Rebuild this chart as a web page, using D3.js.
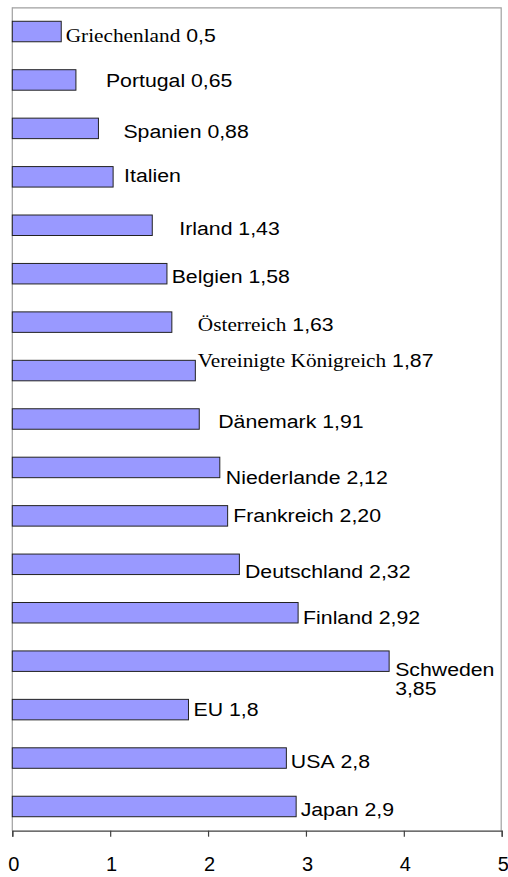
<html>
<head><meta charset="utf-8"></head>
<script src="https://d3js.org/d3.v7.min.js"></script>
<body style="margin:0;background:#fff">
</body>
<script>
    // data
    let countries = ["Griechenland", "Portugal", "Spanien", "Italien", "Irland", "Belgien", "Österreich",
        "Vereinigte Königreich", "Dänemark", "Niederlande", "Frankreich", "Deutschland", "Finland",
        "Schweden", "EU", "USA", "Japan"];
    let values = [0.5, 0.65, 0.88, 1.03, 1.43, 1.58, 1.63, 1.87, 1.91, 2.12, 2.20, 2.32, 2.92, 3.85, 1.8, 2.8, 2.9];
    let valueLabels = ["0,5", "0,65", "0,88", "", "1,43", "1,58", "1,63", "1,87", "1,91", "2,12", "2,20",
        "2,32", "2,92", "3,85", "1,8", "2,8", "2,9"];
    let serifNames = ["Griechenland", "Österreich", "Vereinigte Königreich"];
    let xTicks = [0, 1, 2, 3, 4, 5];

    let width = 508;
    let height = 877;
    let margin = {top: 7.3, right: 6.3, bottom: 46.3, left: 12.3};

    // hand placed label offsets (dx from bar end, dy from bar centre)
    let labelOffset = [[4.5, 10.8], [30, 6.8], [25, 10], [11, 5], [27, 10], [4.7, 9.6], [26, 8.5],
        [2.5, -4], [19, 9], [6, 16.5], [5.6, 5.8], [5.6, 14], [5, 11], [6, 14.5], [5, 6.5], [4.5, 10], [4.5, 10]];

    let svg = d3.select("body").append("svg")
        .attr("width", width)
        .attr("height", height);

    let x = d3.scaleLinear()
        .domain([0, 5])
        .range([margin.left, width - margin.right]);

    let y = d3.scaleBand()
        .domain(countries)
        .range([margin.top, height - margin.bottom])
        .paddingInner(0.577)
        .paddingOuter(0.2885);

    // plot frame (top + right light gray)
    svg.append("path")
        .attr("d", `M${x(0)},${margin.top + 0.5}H${x(5) - 0.5}V${height - margin.bottom}`)
        .attr("fill", "none")
        .attr("stroke", "#a0a0a0")
        .attr("stroke-width", 1.2);
    svg.append("line")
        .attr("x1", x(0)).attr("x2", x(0))
        .attr("y1", margin.top).attr("y2", height - margin.bottom)
        .attr("stroke", "#a0a0a0")
        .attr("stroke-width", 1.2);

    let data = countries.map((c, i) => ({name: c, value: values[i], label: valueLabels[i], off: labelOffset[i]}));

    svg.selectAll("rect.bar")
        .data(data)
        .join("rect")
        .attr("class", "bar")
        .attr("x", x(0))
        .attr("y", d => y(d.name))
        .attr("width", d => x(d.value) - x(0))
        .attr("height", y.bandwidth())
        .attr("fill", "#9999ff")
        .attr("stroke", "#222")
        .attr("stroke-width", 1);

    // x axis
    let axis = svg.append("g")
        .attr("transform", `translate(0,${height - margin.bottom})`)
        .call(d3.axisBottom(x).tickValues(xTicks).tickSize(6).tickPadding(20).tickFormat(d => d));
    axis.select(".domain").attr("stroke", "#404040").attr("stroke-width", 1.2);
    axis.selectAll(".tick line").attr("stroke", "#404040").attr("stroke-width", 1.2);
    axis.selectAll(".tick text")
        .attr("font-family", "Liberation Sans, Arial, sans-serif")
        .attr("font-size", 20)
        .attr("fill", "#000")
        .attr("dx", 1);

    // bar labels
    let labels = svg.selectAll("text.lab")
        .data(data)
        .join("text")
        .attr("class", "lab")
        .attr("transform", d => `translate(${x(d.value) + d.off[0]},${y(d.name) + y.bandwidth() / 2 + d.off[1]}) scale(1.12,1)`)
        .attr("font-family", "Liberation Sans, Arial, sans-serif")
        .attr("font-size", 19)
        .attr("fill", "#000");

    labels.each(function (d) {
        let t = d3.select(this);
        let serif = serifNames.includes(d.name);
        t.append("tspan")
            .attr("font-family", serif ? "Liberation Serif, Times New Roman, serif" : null)
            .text(d.name);
        if (d.name === "Schweden") {
            t.append("tspan").attr("x", 0).attr("dy", 19).text(d.label);
        } else if (d.label) {
            t.append("tspan").text(" " + d.label);
        }
    });
</script>
</html>
